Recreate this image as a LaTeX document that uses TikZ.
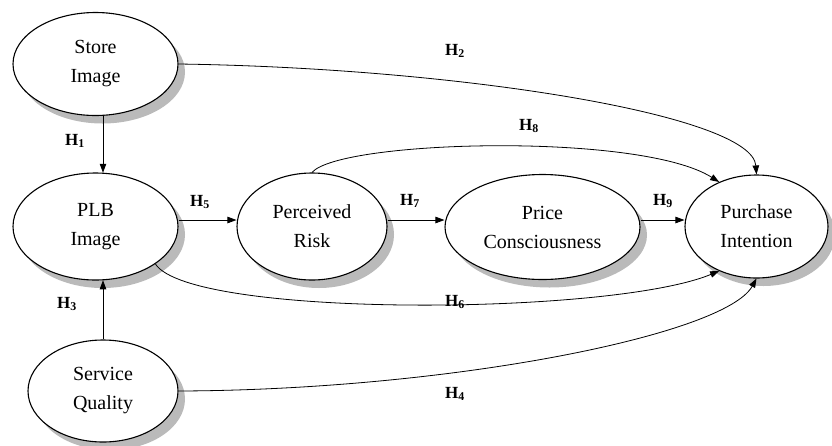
\documentclass[tikz,border=0pt]{standalone}
\usepackage{fontspec}
\setmainfont{Liberation Serif}
\usetikzlibrary{shapes.geometric,shadows,arrows.meta,calc}
\begin{document}
\begin{tikzpicture}[x=1pt,y=-1pt,
  construct/.style={ellipse, draw, line width=1.1pt, fill=white, inner sep=0pt,
    align=center, font=\fontsize{20}{29}\selectfont,
    drop shadow={shadow xshift=7pt, shadow yshift=-8pt, fill=black!27, opacity=1}},
  link/.style={line width=0.8pt, -{Triangle[length=9pt,width=6.5pt]}},
  hyp/.style={font=\fontsize{17}{20}\selectfont\bfseries, inner sep=0pt}]
\useasboundingbox (0,0) rectangle (832,445);
\node[construct, minimum width=165pt, minimum height=103pt] (SI) at (95.5,64) {Store\\Image};
\node[construct, minimum width=165pt, minimum height=107pt] (PLB) at (95.5,226.5) {PLB\\Image};
\node[construct, minimum width=150pt, minimum height=107pt] (PR) at (312,226.5) {Perceived\\Risk};
\node[construct, minimum width=195pt, minimum height=105pt] (PC) at (542.5,227) {Price\\Consciousness};
\node[construct, minimum width=143pt, minimum height=103pt] (PI) at (756.5,226.5) {Purchase\\Intention};
\node[construct, minimum width=150pt, minimum height=102pt] (SQ) at (103,391) {Service\\Quality};

\coordinate (ptop) at ($(PLB.north)+(7.5,0.3)$);
\coordinate (pbot) at ($(PLB.south)+(7.5,-0.3)$);
\coordinate (sbot) at ($(SI.south)+(7.5,-0.3)$);
\draw[link] (sbot) -- (ptop);
\draw[link] (SQ.north) -- (pbot);
\draw[link] (PLB.east |- 0,220) -- (PR.west |- 0,220);
\draw[link] (PR.east |- 0,220) -- (PC.west |- 0,220);
\draw[link] (PC.east |- 0,220) -- (PI.west |- 0,220);

\draw[link] (SI.east) .. controls (460,68) and (752,115) .. (PI.north);
\draw[link] (PR.north) .. controls (340,140) and (640,132) .. (PI.130);
\draw[link] (PLB.-32) .. controls (190,318) and (610,316) .. (PI.-130);
\draw[link] (SQ.east) .. controls (450,390) and (725,335) .. (PI.south);

\node[hyp] (h1) at (75,141) {H\textsubscript{1}};
\node[hyp] (h2) at (455,51) {H\textsubscript{2}};
\node[hyp] (h3) at (67,304) {H\textsubscript{3}};
\node[hyp] (h4) at (455,394) {H\textsubscript{4}};
\node[hyp] (h5) at (200,202) {H\textsubscript{5}};
\node[hyp] (h6) at (455,302) {H\textsubscript{6}};
\node[hyp] (h7) at (410,201) {H\textsubscript{7}};
\node[hyp] (h8) at (529,126) {H\textsubscript{8}};
\node[hyp] (h9) at (663,201) {H\textsubscript{9}};
\end{tikzpicture}
\end{document}
